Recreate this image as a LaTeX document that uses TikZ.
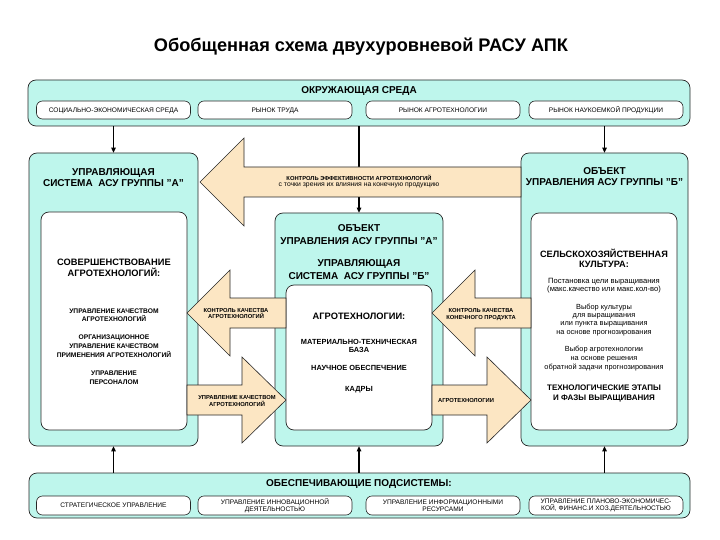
\documentclass[tikz,border=0pt]{standalone}
\usepackage{fontspec}
\setmainfont{Liberation Sans}
\usetikzlibrary{arrows.meta}
\definecolor{aqua}{RGB}{190,246,236}
\definecolor{beige}{RGB}{252,230,195}
\tikzset{
  panel/.style={draw=black!85, line width=0.7pt, fill=aqua, rounded corners=8pt, inner sep=0pt},
  inner/.style={draw=black!85, line width=0.7pt, fill=white, rounded corners=8pt, inner sep=0pt},
  subbox/.style={draw=black!85, line width=0.6pt, fill=white, rounded corners=6pt, inner sep=0pt,
    minimum width=154pt, align=center, font=\fontsize{6.6}{7.2}\selectfont},
  oneline/.style={text depth=0pt},
  ttl/.style={inner sep=0pt, align=center, font=\fontsize{10}{11.5}\selectfont\bfseries},
  txt/.style={inner sep=0pt, align=center},
  conn/.style={line width=1.1pt, -{Triangle[length=5pt,width=4.5pt]}},
  blockarrow/.style={draw=black!85, line width=0.6pt, fill=beige},
  alab/.style={inner sep=0pt, align=center, font=\fontsize{5.8}{6.8}\selectfont\bfseries},
}
\begin{document}
\begin{tikzpicture}[x=1pt,y=-1pt]
\path[use as bounding box] (0,0) rectangle (720,540);

% title
\node[txt, font=\fontsize{18.2}{19}\selectfont\bfseries] (title) at (361,47) {Обобщенная схема двухуровневой РАСУ АПК};

% top box
\node[panel, minimum width=662pt, minimum height=46pt] (top) at (359,103) {};
\node[ttl] (toptitle) at (359,91) {ОКРУЖАЮЩАЯ СРЕДА};
\node[subbox, oneline, minimum height=18pt] (t1) at (113.5,110) {СОЦИАЛЬНО-ЭКОНОМИЧЕСКАЯ СРЕДА};
\node[subbox, oneline, minimum height=18pt] (t2) at (275,110) {РЫНОК ТРУДА};
\node[subbox, oneline, minimum height=18pt] (t3) at (443,110) {РЫНОК АГРОТЕХНОЛОГИИ};
\node[subbox, oneline, minimum height=18pt] (t4) at (606,110) {РЫНОК НАУКОЕМКОЙ ПРОДУКЦИИ};

% bottom box
\node[panel, minimum width=661pt, minimum height=45pt] (bot) at (359.5,495.5) {};
\node[ttl] (bottitle) at (359,484) {ОБЕСПЕЧИВАЮЩИЕ ПОДСИСТЕМЫ:};
\node[subbox, oneline, minimum height=19pt] (b1) at (113.5,505.5) {СТРАТЕГИЧЕСКОЕ УПРАВЛЕНИЕ};
\node[subbox, minimum height=19pt] (b2) at (275,505.5) {УПРАВЛЕНИЕ ИННОВАЦИОННОЙ\\ДЕЯТЕЛЬНОСТЬЮ};
\node[subbox, minimum height=19pt] (b3) at (443,505.5) {УПРАВЛЕНИЕ ИНФОРМАЦИОННЫМИ\\РЕСУРСАМИ};
\node[subbox, minimum height=19pt] (b4) at (606,505.5) {УПРАВЛЕНИЕ ПЛАНОВО-ЭКОНОМИЧЕС-\\КОЙ, ФИНАНС.И ХОЗ.ДЕЯТЕЛЬНОСТЬЮ};

% panels
\node[panel, minimum width=169pt, minimum height=293pt] (lp) at (113.5,299.5) {};
\node[panel, minimum width=168pt, minimum height=233pt] (cp) at (359,329.5) {};
\node[panel, minimum width=167pt, minimum height=293pt] (rp) at (604.5,299.5) {};

\node[inner, minimum width=146pt, minimum height=218pt] (li) at (114,321) {};
\node[inner, minimum width=146pt, minimum height=145pt] (ci) at (359,357.5) {};
\node[inner, minimum width=146pt, minimum height=217pt] (ri) at (604,321.5) {};

% panel titles
\node[ttl] (lt) at (113.5,177.5) {УПРАВЛЯЮЩАЯ\\СИСТЕМА\ \ АСУ ГРУППЫ "А"};
\node[ttl] (rt) at (604.5,176.5) {ОБЪЕКТ\\УПРАВЛЕНИЯ АСУ ГРУППЫ "Б"};
\node[ttl, font=\fontsize{10}{13}\selectfont\bfseries] (ct1) at (359,234.5) {ОБЪЕКТ\\УПРАВЛЕНИЯ АСУ ГРУППЫ "А"};
\node[ttl, font=\fontsize{10}{13}\selectfont\bfseries] (ct2) at (359,269.5) {УПРАВЛЯЮЩАЯ\\СИСТЕМА\ \ АСУ ГРУППЫ "Б"};

% left inner text
\node[txt, font=\fontsize{9.3}{11}\selectfont\bfseries] (l1) at (114,267.5) {СОВЕРШЕНСТВОВАНИЕ\\АГРОТЕХНОЛОГИЙ:};
\node[txt, font=\fontsize{6.7}{8.5}\selectfont\bfseries] (l2) at (114,315) {УПРАВЛЕНИЕ КАЧЕСТВОМ\\АГРОТЕХНОЛОГИЙ};
\node[txt, font=\fontsize{6.7}{9}\selectfont\bfseries] (l3) at (114,346) {ОРГАНИЗАЦИОННОЕ\\УПРАВЛЕНИЕ КАЧЕСТВОМ\\ПРИМЕНЕНИЯ АГРОТЕХНОЛОГИЙ};
\node[txt, font=\fontsize{6.7}{9}\selectfont\bfseries] (l4) at (114,377.5) {УПРАВЛЕНИЕ\\ПЕРСОНАЛОМ};

% center inner text
\node[txt, font=\fontsize{9.3}{10}\selectfont\bfseries] (c1) at (359,316) {АГРОТЕХНОЛОГИИ:};
\node[txt, font=\fontsize{7.4}{8.2}\selectfont\bfseries] (c2) at (359,346) {МАТЕРИАЛЬНО-ТЕХНИЧЕСКАЯ\\БАЗА};
\node[txt, font=\fontsize{7.4}{8}\selectfont\bfseries] (c3) at (359,368) {НАУЧНОЕ ОБЕСПЕЧЕНИЕ};
\node[txt, font=\fontsize{7.4}{8}\selectfont\bfseries] (c4) at (359,390) {КАДРЫ};

% right inner text
\node[txt, font=\fontsize{9.2}{9.8}\selectfont\bfseries] (r1) at (604,258.5) {СЕЛЬСКОХОЗЯЙСТВЕННАЯ\\КУЛЬТУРА:};
\node[txt, font=\fontsize{7.6}{8.2}\selectfont] (r2) at (604,286) {Постановка цели выращивания\\(макс.качество или макс.кол-во)};
\node[txt, font=\fontsize{7.4}{8.1}\selectfont] (r3) at (604,320) {Выбор культуры\\для выращивания\\или пункта выращивания\\на основе прогнозирования};
\node[txt, font=\fontsize{7.4}{8.6}\selectfont] (r4) at (604,358.5) {Выбор агротехнологии\\на основе решения\\обратной задачи прогнозирования};
\node[txt, font=\fontsize{8}{9.5}\selectfont\bfseries] (r5) at (604,393.5) {ТЕХНОЛОГИЧЕСКИЕ ЭТАПЫ\\И ФАЗЫ ВЫРАЩИВАНИЯ};

% thin connectors
\draw[conn] (top.south -| lp.north) -- (lp.north);
\draw[conn] (top.south -| cp.north) -- (cp.north);
\draw[conn] (top.south -| rp.north) -- (rp.north);
\draw[conn] (bot.north -| lp.south) -- (lp.south);
\draw[conn] (bot.north -| cp.south) -- (cp.south);
\draw[conn] (bot.north -| rp.south) -- (rp.south);

% block arrows
\filldraw[blockarrow] (521,167) -- (244,167) -- (244,138) -- (200,182) -- (244,226) -- (244,197) -- (521,197) -- cycle;
\node[alab] (a0) at (359,181.5) {КОНТРОЛЬ ЭФФЕКТИВНОСТИ АГРОТЕХНОЛОГИЙ\\\fontsize{6.8}{6.8}\selectfont\mdseries с точки зрения их влияния на конечную продукцию};

\filldraw[blockarrow] (286,298) -- (230,298) -- (230,270) -- (187,313) -- (230,356) -- (230,328) -- (286,328) -- cycle;
\node[alab] (a1) at (236,313.5) {КОНТРОЛЬ КАЧЕСТВА\\АГРОТЕХНОЛОГИЙ};

\filldraw[blockarrow] (187,385) -- (242,385) -- (242,357) -- (286,400) -- (242,443) -- (242,415) -- (187,415) -- cycle;
\node[alab] (a2) at (237,401) {УПРАВЛЕНИЕ КАЧЕСТВОМ\\АГРОТЕХНОЛОГИЙ};

\filldraw[blockarrow] (531,298) -- (475,298) -- (475,270) -- (432,313) -- (475,356) -- (475,328) -- (531,328) -- cycle;
\node[alab] (a3) at (481,314.5) {КОНТРОЛЬ КАЧЕСТВА\\КОНЕЧНОГО ПРОДУКТА};

\filldraw[blockarrow] (432,385) -- (487,385) -- (487,357) -- (531,400) -- (487,443) -- (487,415) -- (432,415) -- cycle;
\node[alab, oneline] (a4) at (466,400) {АГРОТЕХНОЛОГИИ};
\end{tikzpicture}
\end{document}
